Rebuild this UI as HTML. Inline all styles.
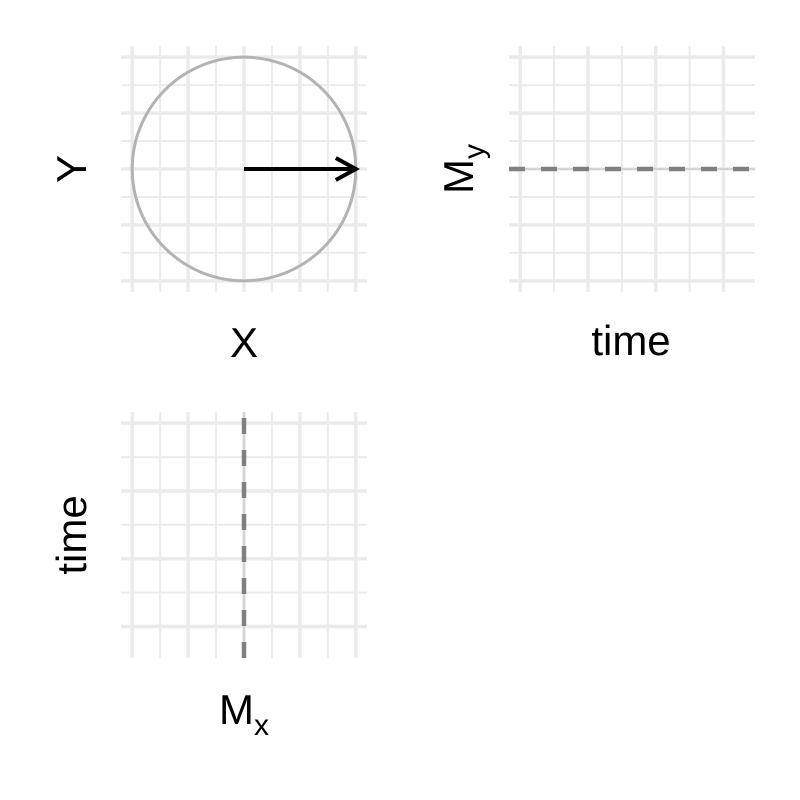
<!DOCTYPE html>
<html><head><meta charset="utf-8">
<style>
html,body{margin:0;padding:0;background:#fff;}
svg{display:block;font-family:"Liberation Sans",sans-serif;}
</style></head>
<body>
<svg id="chart" width="800" height="800" viewBox="0 0 800 800">
<g id="p1"></g>
<g id="p2"></g>
<g id="p3"></g>
<text x="244" y="357" font-size="42" text-anchor="middle">X</text>
<text transform="translate(86,169) rotate(-90)" font-size="42" text-anchor="middle">Y</text>
<text x="631" y="355" font-size="42" text-anchor="middle">time</text>
<text transform="translate(473,169) rotate(-90)" font-size="42" text-anchor="middle">M<tspan font-size="30" dy="11">y</tspan></text>
<text transform="translate(86,535) rotate(-90)" font-size="42" text-anchor="middle">time</text>
<text x="244" y="724" font-size="42" text-anchor="middle">M<tspan font-size="30" dy="11">x</tspan></text>
</svg>
<script>
const xyBreaks = [-1,-0.5,0,0.5,1];
const xyMinor = [-0.75,-0.25,0.25,0.75];
const timeBreaks = [0,2,4,6];
const timeMinor = [1,3,5];
const vecX = [0,1];
const vecY = [0,0];
const circleR = [1];
const myValues = [0];
const mxValues = [0];
const timeRange = [0,6.6];

const NS="http://www.w3.org/2000/svg";
function mk(parent,tag,attrs){const e=document.createElementNS(NS,tag);for(const k in attrs)e.setAttribute(k,attrs[k]);parent.appendChild(e);return e;}
function scale(d0,d1,r0,r1){return v=>r0+(v-d0)/(d1-d0)*(r1-r0);}
function panel(g,x0,x1,y0,y1,xs,ys,xMaj,xMin,yMaj,yMin){
  yMin.forEach(v=>{const l=mk(g,'line',{x1:x0,x2:x1,y1:ys(v),y2:ys(v),stroke:'#ebebeb','stroke-width':2});
    
    });
  xMin.forEach(v=>{const l=mk(g,'line',{y1:y0,y2:y1,x1:xs(v),x2:xs(v),stroke:'#ebebeb','stroke-width':2});
    
    });
  yMaj.forEach(v=>{const l=mk(g,'line',{x1:x0,x2:x1,y1:ys(v),y2:ys(v),stroke:'#ebebeb','stroke-width':3.5});
    
    });
  xMaj.forEach(v=>{const l=mk(g,'line',{y1:y0,y2:y1,x1:xs(v),x2:xs(v),stroke:'#ebebeb','stroke-width':3.5});
    
    });
}
// Panel 1
const x1s=scale(-1.1,1.1,121,367), y1s=scale(-1.1,1.1,292,46);
const p1=document.getElementById('p1');
panel(p1,121,367,46,292,x1s,y1s,xyBreaks,xyMinor,xyBreaks,xyMinor);
const c=mk(p1,'circle',{cx:x1s(0),cy:y1s(0),r:x1s(circleR[0])-x1s(0),fill:'none',stroke:'#b3b3b3','stroke-width':3});


const ax=x1s(vecX[1]),ay=y1s(vecY[1]);
const ar=mk(p1,'path',{d:`M${x1s(vecX[0])},${y1s(vecY[0])}L${ax},${ay}M${ax-20},${ay-11}L${ax},${ay}L${ax-20},${ay+11}`,fill:'none',stroke:'#000','stroke-width':4,'stroke-linecap':'butt'});


// Panel 2
const x2s=scale(timeRange[0]-0.33,timeRange[1]+0.33,509,755), y2s=y1s;
const p2=document.getElementById('p2');
panel(p2,509,755,46,292,x2s,y2s,timeBreaks,timeMinor,xyBreaks,xyMinor);
myValues.forEach(v=>{
  const t=mk(p2,'line',{x1:509,x2:755,y1:y2s(v),y2:y2s(v),stroke:'#bbb','stroke-width':1});
  
  
  const l=mk(p2,'line',{x1:509,x2:755,y1:y2s(v),y2:y2s(v),stroke:'#808080','stroke-width':4.5,'stroke-dasharray':'16 16'});
  
  
});
// Panel 3
const x3s=x1s, y3s=scale(timeRange[0]-0.33,timeRange[1]+0.33,412,658);
const p3=document.getElementById('p3');
panel(p3,121,367,412,658,x3s,y3s,xyBreaks,xyMinor,timeBreaks,timeMinor);
mxValues.forEach(v=>{
  const t=mk(p3,'line',{y1:412,y2:658,x1:x3s(v),x2:x3s(v),stroke:'#bbb','stroke-width':1});
  
  
  const l=mk(p3,'line',{y1:418,y2:658,x1:x3s(v),x2:x3s(v),stroke:'#808080','stroke-width':4.5,'stroke-dasharray':'16 16'});
  
  
});
</script>
</body></html>
